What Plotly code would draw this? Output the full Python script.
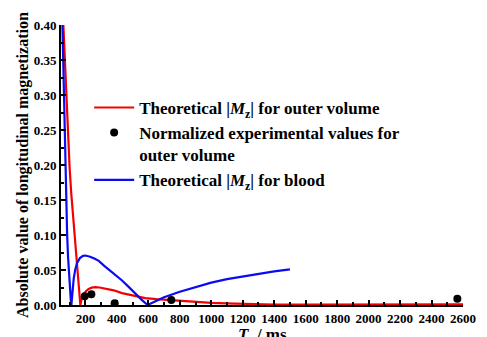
import plotly.graph_objects as go

# ---- data ----
t_outer = [60, 70, 80, 90, 100, 110, 120, 130, 140, 150, 160, 168, 176, 190, 205, 221, 240,
           263, 290, 330, 380, 433, 500, 581, 650, 750, 850, 1000, 1150, 1300, 1400, 1600,
           2000, 2600]
mz_outer = [0.40, 0.345, 0.29, 0.24, 0.195, 0.16, 0.13, 0.10, 0.072, 0.046, 0.022, 0.0,
            0.009, 0.016, 0.020, 0.023, 0.0248, 0.0255, 0.025, 0.0235, 0.021, 0.017, 0.0135,
            0.0098, 0.0083, 0.0065, 0.005, 0.003, 0.002, 0.001, 0.0006, 0.0004, 0.0005,
            0.0008]

t_blood = [54, 60, 66, 72, 78, 84, 90, 96, 102, 107, 111, 118, 126, 136, 147, 165, 185, 200,
           230, 260, 285, 320, 360, 400, 433, 470, 517, 555, 595, 650, 700, 800, 900, 1000,
           1100, 1200, 1300, 1400, 1500]
mz_blood = [0.40, 0.33, 0.26, 0.20, 0.15, 0.10, 0.068, 0.042, 0.022, 0.008, 0.0, 0.020,
            0.038, 0.051, 0.060, 0.067, 0.0703, 0.0707, 0.069, 0.066, 0.063, 0.056, 0.049,
            0.041, 0.035, 0.027, 0.016, 0.008, 0.0, 0.006, 0.011, 0.019, 0.026, 0.032,
            0.037, 0.041, 0.045, 0.048, 0.051]

t_exp = [196, 238, 386, 746, 2564]
mz_exp = [0.0125, 0.0153, 0.0024, 0.0070, 0.0088]

x_ticks = [200, 400, 600, 800, 1000, 1200, 1400, 1600, 1800, 2000, 2200, 2400, 2600]
y_ticks = [0.00, 0.05, 0.10, 0.15, 0.20, 0.25, 0.30, 0.35, 0.40]

FONT = "Liberation Serif"

fig = go.Figure()
fig.add_trace(go.Scatter(
    x=t_outer, y=mz_outer, mode="lines", line=dict(color="#f50000", width=2.2),
    name="<b>Theoretical |<i>M</i><sub>z</sub>| for outer volume</b>", legendrank=1))
fig.add_trace(go.Scatter(
    x=t_blood, y=mz_blood, mode="lines", line=dict(color="#0a0af5", width=2.2),
    name="<b>Theoretical |<i>M</i><sub>z</sub>| for blood</b>", legendrank=3))
fig.add_trace(go.Scatter(
    x=t_exp, y=mz_exp, mode="markers", marker=dict(color="black", size=8),
    name="<b>Normalized experimental values for<br>outer volume</b>", legendrank=2))

axis_common = dict(
    showline=True, linecolor="black", linewidth=2, showgrid=False, zeroline=False,
    ticks="inside", ticklen=5, tickwidth=2, tickcolor="black",
    tickfont=dict(family=FONT, size=13, color="black", weight="bold"),
    mirror=False,
)

fig.update_xaxes(range=[45, 2600], tickvals=x_ticks, ticktext=[str(v) for v in x_ticks],
                 minor=dict(dtick=100, tick0=0, ticks="inside", ticklen=3, tickwidth=2, tickcolor="black"),
                 **axis_common)
fig.update_yaxes(range=[0, 0.40], tickvals=y_ticks, ticktext=[f"{v:.2f}" for v in y_ticks],
                 minor=dict(dtick=0.025, tick0=0, ticks="inside", ticklen=3, tickwidth=2, tickcolor="black"),
                 **axis_common)

# the page body has an 8px margin, so the figure is offset by (8, 8) in the window
fig.update_layout(
    width=487, height=337,
    margin=dict(l=53, r=32, t=10, b=40),
    paper_bgcolor="white", plot_bgcolor="white",
    font=dict(family=FONT, color="black"),
    showlegend=True,
    legend=dict(x=0.07, y=0.768, xanchor="left", yanchor="top", bgcolor="rgba(0,0,0,0)",
                font=dict(family=FONT, size=17, color="black"), valign="top",
                itemwidth=40, tracegroupgap=0),
    annotations=[
        dict(text="<b>Absolute value of longitudinal magnetization</b>", textangle=-90,
             xref="paper", yref="paper", x=0, y=0.5, xanchor="center", yanchor="middle",
             xshift=-38, showarrow=False, font=dict(family=FONT, size=16, color="black")),
        dict(text="<b><i>T</i>  / ms</b>", xref="paper", yref="paper", x=0.5, y=0,
             xanchor="center", yanchor="top", yshift=-18, showarrow=False,
             font=dict(family=FONT, size=17, color="black")),
    ],
)

fig.write_html("out.html")
